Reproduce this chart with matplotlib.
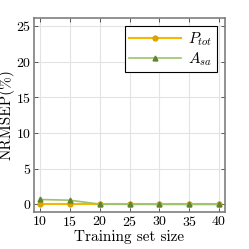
import matplotlib
matplotlib.use("Agg")
import matplotlib.pyplot as plt

sizes = [10, 15, 20, 25, 30, 35, 40]
p_tot = [0.0, 0.0, 0.0, 0.0, 0.0, 0.0, 0.0]
a_sa = [0.7, 0.6, 0.05, 0.03, 0.02, 0.02, 0.01]
xticks = [10, 15, 20, 25, 30, 35, 40]
yticks = [0, 5, 10, 15, 20, 25]

plt.rcParams['font.family'] = 'serif'
plt.rcParams['font.serif'] = ['cmr10']
plt.rcParams['mathtext.fontset'] = 'cm'
plt.rcParams['axes.formatter.use_mathtext'] = True

fig = plt.figure(figsize=(2.49, 2.49), dpi=100)
ax = fig.add_axes([34/249, 1-212/249, (225-34)/249, (212-18)/249])

ax.plot(sizes, p_tot, color='#F5B800', lw=1.5, marker='o', ms=3.5,
        mfc='#D9A300', mec='#D9A300', label=r'$P_{tot}$', zorder=3)
ax.plot(sizes, a_sa, color='#9CC36A', lw=1.2, marker='^', ms=3.5,
        mfc='#5F8430', mec='#5F8430', label=r'$A_{sa}$', zorder=4)

ax.set_xlim(9, 41)
ax.set_ylim(-1.05, 26.1)
ax.set_xticks(xticks)
ax.set_yticks(yticks)
ax.grid(True, color='#E3E3E3', lw=0.8)
ax.set_axisbelow(True)
for s in ax.spines.values():
    s.set_color('#7F7F7F')
    s.set_linewidth(1.2)
ax.tick_params(direction='in', top=True, right=True, length=3, width=0.6,
               color='#404040', labelsize=10, pad=2)
ax.set_xlabel('Training set size', fontsize=11, labelpad=1)
ax.set_ylabel('NRMSEP(%)', fontsize=11, labelpad=1)

leg = ax.legend(loc='upper right', fontsize=11, fancybox=False, framealpha=1,
                edgecolor='black', borderpad=0.25, handlelength=3.4,
                handletextpad=0.5, borderaxespad=0.55, labelspacing=0.15)
leg.get_frame().set_linewidth(0.8)

fig.savefig('out.png', dpi=100)
